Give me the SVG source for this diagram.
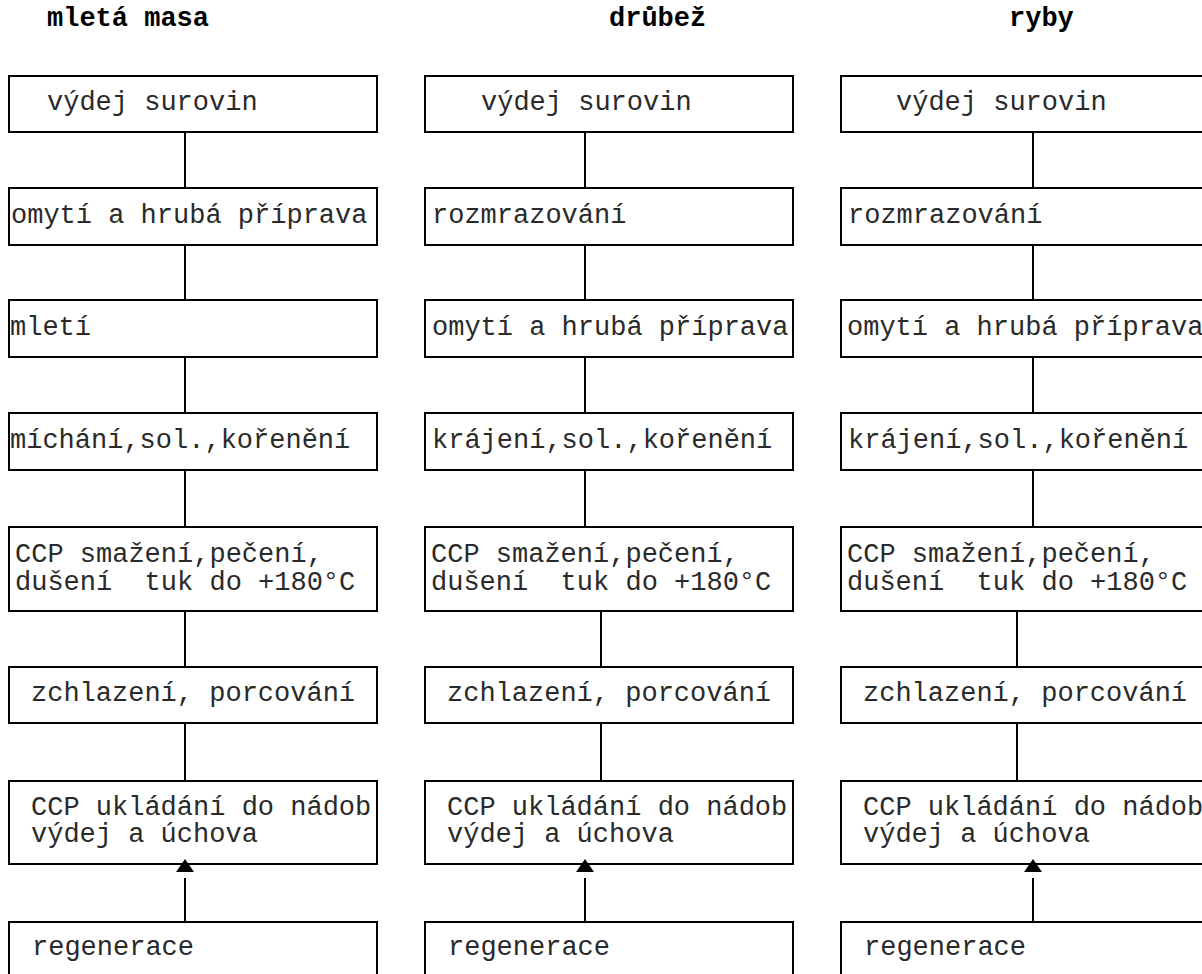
<svg xmlns="http://www.w3.org/2000/svg" width="1202" height="974" viewBox="0 0 1202 974">
<defs>
<style>
.b{fill:#fff;stroke:#000;stroke-width:2}
.t{font-family:"Liberation Mono","Courier New",monospace;font-size:27px;fill:#2a2a2a;white-space:pre}
.h{font-family:"Liberation Mono","Courier New",monospace;font-size:27px;font-weight:bold;fill:#000}
.c{stroke:#000;stroke-width:2;fill:none}
</style>
</defs>
<rect width="1202" height="974" fill="#fff"/>
<g id="titles">
<text class="h" x="47" y="26">mletá masa</text>
<text class="h" x="609" y="26">drůbež</text>
<text class="h" x="1009" y="26">ryby</text>
</g>
<g id="col1">
<g id="n1a"><rect class="b" x="9" y="76" width="368" height="56"/><text class="t" x="47" y="110">výdej surovin</text></g>
<g id="n1b"><rect class="b" x="9" y="188" width="368" height="57"/><text class="t" x="11" y="223">omytí a hrubá příprava</text></g>
<g id="n1c"><rect class="b" x="9" y="300" width="368" height="57"/><text class="t" x="10" y="335">mletí</text></g>
<g id="n1d"><rect class="b" x="9" y="413" width="368" height="57"/><text class="t" x="10" y="448">míchání,sol.,kořenění</text></g>
<g id="n1e"><rect class="b" x="9" y="527" width="368" height="84"/><text class="t" x="15" y="562">CCP smažení,pečení,</text><text class="t" x="15" y="590" xml:space="preserve">dušení  tuk do +180°C</text></g>
<g id="n1f"><rect class="b" x="9" y="667" width="368" height="56"/><text class="t" x="31" y="701">zchlazení, porcování</text></g>
<g id="n1g"><rect class="b" x="9" y="781" width="368" height="83"/><text class="t" x="31" y="815">CCP ukládání do nádob</text><text class="t" x="31" y="842">výdej a úchova</text></g>
<g id="n1h"><rect class="b" x="9" y="922" width="368" height="70"/><text class="t" x="32" y="955">regenerace</text></g>
</g>
<g id="col2">
<g id="n2a"><rect class="b" x="425" y="76" width="368" height="56"/><text class="t" x="481" y="110">výdej surovin</text></g>
<g id="n2b"><rect class="b" x="425" y="188" width="368" height="57"/><text class="t" x="432" y="223">rozmrazování</text></g>
<g id="n2c"><rect class="b" x="425" y="300" width="368" height="57"/><text class="t" x="432" y="335">omytí a hrubá příprava</text></g>
<g id="n2d"><rect class="b" x="425" y="413" width="368" height="57"/><text class="t" x="432" y="448">krájení,sol.,kořenění</text></g>
<g id="n2e"><rect class="b" x="425" y="527" width="368" height="84"/><text class="t" x="431" y="562">CCP smažení,pečení,</text><text class="t" x="431" y="590" xml:space="preserve">dušení  tuk do +180°C</text></g>
<g id="n2f"><rect class="b" x="425" y="667" width="368" height="56"/><text class="t" x="447" y="701">zchlazení, porcování</text></g>
<g id="n2g"><rect class="b" x="425" y="781" width="368" height="83"/><text class="t" x="447" y="815">CCP ukládání do nádob</text><text class="t" x="447" y="842">výdej a úchova</text></g>
<g id="n2h"><rect class="b" x="425" y="922" width="368" height="70"/><text class="t" x="448" y="955">regenerace</text></g>
</g>
<g id="col3">
<g id="n3a"><rect class="b" x="841" y="76" width="368" height="56"/><text class="t" x="896" y="110">výdej surovin</text></g>
<g id="n3b"><rect class="b" x="841" y="188" width="368" height="57"/><text class="t" x="848" y="223">rozmrazování</text></g>
<g id="n3c"><rect class="b" x="841" y="300" width="368" height="57"/><text class="t" x="847" y="335">omytí a hrubá příprava</text></g>
<g id="n3d"><rect class="b" x="841" y="413" width="368" height="57"/><text class="t" x="848" y="448">krájení,sol.,kořenění</text></g>
<g id="n3e"><rect class="b" x="841" y="527" width="368" height="84"/><text class="t" x="847" y="562">CCP smažení,pečení,</text><text class="t" x="847" y="590" xml:space="preserve">dušení  tuk do +180°C</text></g>
<g id="n3f"><rect class="b" x="841" y="667" width="368" height="56"/><text class="t" x="863" y="701">zchlazení, porcování</text></g>
<g id="n3g"><rect class="b" x="841" y="781" width="368" height="83"/><text class="t" x="863" y="815">CCP ukládání do nádob</text><text class="t" x="863" y="842">výdej a úchova</text></g>
<g id="n3h"><rect class="b" x="841" y="922" width="368" height="70"/><text class="t" x="864" y="955">regenerace</text></g>
</g>
<g id="connectors">
<line class="c" x1="185" y1="132" x2="185" y2="188"/>
<line class="c" x1="185" y1="245" x2="185" y2="300"/>
<line class="c" x1="185" y1="357" x2="185" y2="413"/>
<line class="c" x1="185" y1="470" x2="185" y2="527"/>
<line class="c" x1="185" y1="611" x2="185" y2="667"/>
<line class="c" x1="185" y1="723" x2="185" y2="781"/>
<line class="c" x1="185" y1="878" x2="185" y2="922"/>
<polygon points="185,859 176,872 194,872" fill="#000"/>
<line class="c" x1="585" y1="132" x2="585" y2="188"/>
<line class="c" x1="585" y1="245" x2="585" y2="300"/>
<line class="c" x1="585" y1="357" x2="585" y2="413"/>
<line class="c" x1="585" y1="470" x2="585" y2="527"/>
<line class="c" x1="601" y1="611" x2="601" y2="667"/>
<line class="c" x1="601" y1="723" x2="601" y2="781"/>
<line class="c" x1="585" y1="878" x2="585" y2="922"/>
<polygon points="585,859 576,872 594,872" fill="#000"/>
<line class="c" x1="1033" y1="132" x2="1033" y2="188"/>
<line class="c" x1="1033" y1="245" x2="1033" y2="300"/>
<line class="c" x1="1033" y1="357" x2="1033" y2="413"/>
<line class="c" x1="1033" y1="470" x2="1033" y2="527"/>
<line class="c" x1="1017" y1="611" x2="1017" y2="667"/>
<line class="c" x1="1017" y1="723" x2="1017" y2="781"/>
<line class="c" x1="1033" y1="878" x2="1033" y2="922"/>
<polygon points="1033,859 1024,872 1042,872" fill="#000"/>
</g>
</svg>
